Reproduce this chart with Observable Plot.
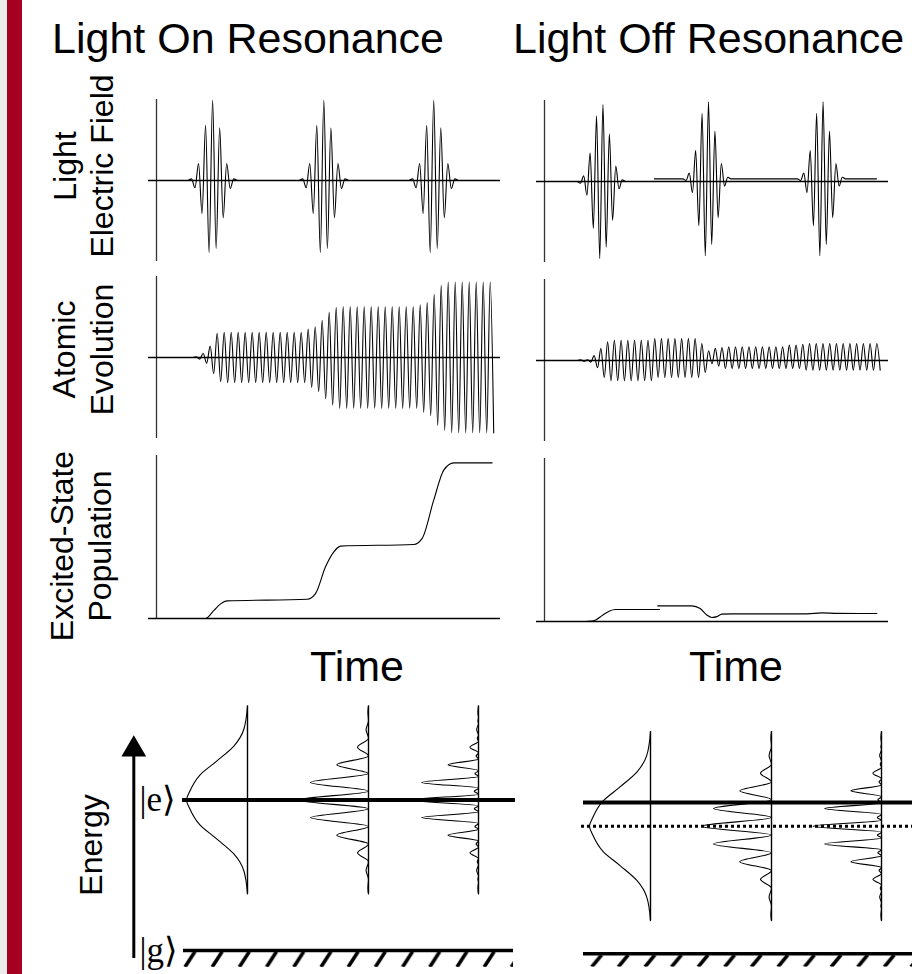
<!DOCTYPE html>
<html>
<head>
<meta charset="utf-8">
<script src="https://cdn.jsdelivr.net/npm/d3@7"></script>
<script src="https://cdn.jsdelivr.net/npm/@observablehq/plot@0.6"></script>
<style>
  html, body { margin: 0; padding: 0; background: #fff; }
  #fig { position: relative; width: 912px; height: 974px; overflow: hidden; }
  #fig > svg { position: absolute; }
</style>
</head>
<body>
<div id="fig"></div>
<script>
// ================= TEXT =================
const titles = ["Light On Resonance", "Light Off Resonance"];
const rowLabels = [["Light", "Electric Field"], ["Atomic", "Evolution"], ["Excited-State", "Population"]];
const timeLabel = "Time";
const energyLabel = "Energy";
const stateLabels = ["|e\u27E9", "|g\u27E9"];

// ================= LIGHT ELECTRIC FIELD (time axis 0..100, field in units of peak) =================
const pulseCentersOn = [16.8, 50.1, 83.0];          // time of the largest crest of each pulse
const pulseHalfCycleOn = 1.054;                      // time between successive extremes
const pulsePeakIndexOn = 6;
const pulseShapeOn = [0.02, -0.09, 0.21, -0.41, 0.68, -0.89, 0.99, -0.84, 0.65, -0.46, 0.21, -0.10, 0.02];

const pulseCentersOff = [17.5, 49.1, 83.4];
const pulseHalfCycleOff = 0.96;
const pulsePeakIndexOff = 7;
const pulseShapeOff = [-0.02, 0.07, -0.17, 0.35, -0.58, 0.81, -0.95, 0.95, -0.81, 0.59, -0.48, 0.19, -0.09, 0.02];
const pulseOffsetOff = [0, 0.033, 0.033];            // slight raise of pulses 2 and 3
const raisedLineOff = [32.9, 99.4];                  // span of the raised trace

// ================= ATOMIC EVOLUTION (crest / trough of each cycle) =================
const atomOnStart = 11.88, atomOnPeriod = 2.096;
const atomOnCrest = [0.01,0.05,0.14,0.30,
  0.31,0.31,0.31,0.31,0.31,0.31,0.31,0.31,0.31,0.31,0.31,0.31,
  0.35,0.38,0.46,0.56,0.62,
  0.63,0.63,0.63,0.63,0.63,0.63,0.63,0.63,0.63,0.63,0.63,
  0.65,0.68,0.78,0.89,
  0.93,0.93,0.93,0.93,0.93,0.93,0.93];
const atomOnTrough = [0.02,0.07,0.20,0.30,
  0.31,0.31,0.31,0.31,0.31,0.31,0.31,0.31,0.31,0.31,0.31,0.31,
  0.37,0.42,0.51,0.59,0.63,
  0.63,0.63,0.63,0.63,0.63,0.63,0.63,0.63,0.63,0.63,0.63,
  0.68,0.72,0.84,0.90,
  0.93,0.93,0.93,0.93,0.93,0.93,0.93];

const atomOffStart = 10.84, atomOffPeriod = 2.015;
const atomOffCrest = [0.01,0.01,0.06,0.15,0.23,
  0.25,0.25,0.25,0.25,0.25,0.25,
  0.27,0.27,0.27,0.27,0.27,0.27,0.27,
  0.21,0.12,0.15,0.16,
  0.17,0.17,0.17,0.17,0.17,0.17,0.17,0.17,0.17,
  0.19,0.19,0.20,
  0.21,0.21,0.21,0.21,0.21,0.21,0.21,0.21,0.21,0.21,0.21];
const atomOffTrough = [0.01,0.02,0.09,0.21,
  0.25,0.25,0.25,0.25,0.25,0.25,0.25,
  0.21,0.21,0.21,0.21,0.21,0.21,0.21,
  0.15,0.04,0.07,
  0.10,0.10,0.10,0.10,0.10,0.10,0.10,0.10,0.10,0.10,0.10,0.10,
  0.12,0.12,0.12,0.12,0.12,0.12,0.12,0.12,0.12,0.12,0.12,0.12];

// ================= EXCITED-STATE POPULATION =================
const popOnTime  = [0, 14.7, 17.2, 19.2, 21.1, 45.1, 47.6, 50.6, 53.1, 55.1, 77.0, 79.5, 83.0, 86.0, 89.0, 100.5];
const popOnValue = [0, 0, 0.05, 0.09, 0.108, 0.118, 0.153, 0.317, 0.409, 0.444, 0.454, 0.49, 0.726, 0.91, 0.955, 0.955];
const popOffTimeA  = [11.2, 14.7, 17.5, 19.5, 21.2, 34.4];
const popOffValueA = [0, 0.005, 0.04, 0.065, 0.074, 0.074];
const popOffTimeB  = [33.9, 44.1, 46.6, 48.6, 50.1, 51.6, 53.1, 56.1, 78.6, 83.1, 87.6, 99.5];
const popOffValueB = [0.096, 0.096, 0.08, 0.04, 0.025, 0.03, 0.045, 0.047, 0.047, 0.053, 0.05, 0.049];

// ================= SPECTRA (energy: |g> = 0, |e> = 1; intensity in units of single-pulse peak) =================
const laserEnergyOn = 1.0, laserEnergyOff = 0.843;
const spectrumHalfSpan = 0.625;
const gaussOffset    = [0, 0.055, 0.166, 0.26, 0.36, 0.47, 0.625];
const gaussIntensity = [1, 0.95, 0.78, 0.50, 0.22, 0.06, 0];
const fringeSpacing = 0.117;
const twoPulsePeaks   = [1.15, 0.95, 0.52, 0.18, 0.04, 0.01];
const threePulseMain  = [1.12, 0.93, 0.50, 0.14, 0.03, 0.01];
const threePulseSub   = [0.07, 0.06, 0.04, 0.02, 0.01];

// ================= BUILD =================
const fig = document.getElementById("fig");
const FONT = "'Liberation Sans', Arial, Helvetica, sans-serif";
const SERIF = "'Liberation Serif', 'DejaVu Serif', 'Times New Roman', serif";
function place(el, left, top) {
  el.style.position = "absolute";
  el.style.left = left + "px";
  el.style.top = top + "px";
  el.style.overflow = "visible";
  fig.appendChild(el);
}

// background: side bar, hatch patterns, texts
const bg = d3.select(fig).append("svg").attr("width", 912).attr("height", 974)
  .style("left", "0px").style("top", "0px");
bg.append("rect").attr("x", 0).attr("y", 0).attr("width", 7).attr("height", 974).attr("fill", "#ebebeb");
bg.append("rect").attr("x", 7).attr("y", 0).attr("width", 15).attr("height", 974).attr("fill", "#a50021");
const defs = bg.append("defs");
function hatch(id, tx, ty, w, h) {
  const p = defs.append("pattern").attr("id", id).attr("patternUnits", "userSpaceOnUse")
    .attr("width", w).attr("height", h).attr("patternTransform", `translate(${tx},${ty})`);
  p.append("line").attr("x1", 3).attr("y1", h).attr("x2", 13).attr("y2", 0)
    .attr("stroke", "#000").attr("stroke-width", 3.6);
}
hatch("hatchL", 102, 251.5, 27.2, 15.5);
hatch("hatchR", 28.7, 254.8, 26.6, 12.2);

const T = bg.append("g").attr("font-family", FONT).attr("fill", "#000");
T.append("text").attr("x", 52).attr("y", 53).attr("font-size", 43).text(titles[0]);
T.append("text").attr("x", 513).attr("y", 53).attr("font-size", 43).text(titles[1]);
function rotLabel(lines, cy, baselines, size) {
  const g = T.append("g").attr("transform", `translate(0,${cy}) rotate(-90)`);
  lines.forEach((s, i) => g.append("text").attr("x", 0).attr("y", baselines[i])
    .attr("text-anchor", "middle").attr("font-size", size).text(s));
}
rotLabel(rowLabels[0], 166, [76, 113], 32);
rotLabel(rowLabels[1], 349.5, [75, 113], 32);
rotLabel(rowLabels[2], 546, [73, 111], 32);
rotLabel([energyLabel], 845, [102], 32);
T.append("text").attr("x", 357).attr("y", 681).attr("text-anchor", "middle").attr("font-size", 43).text(timeLabel);
T.append("text").attr("x", 736).attr("y", 681).attr("text-anchor", "middle").attr("font-size", 43).text(timeLabel);

// ---------- time panels ----------
function timePanel(left, top, wave, marks) {
  const el = Plot.plot({
    width: 356, height: wave ? 172 : 173,
    marginLeft: 10, marginRight: 12, marginTop: 5, marginBottom: 5,
    x: {domain: [0, 100], axis: null},
    y: {domain: wave ? [-1, 1] : [0, 1], axis: null},
    style: {background: "transparent", overflow: "visible"},
    marks: [
      ...marks,
      Plot.ruleX([{x: 0, y1: wave ? -1 : 0, y2: 1}], {x: "x", y1: "y1", y2: "y2", stroke: "#333", strokeWidth: 1.3}),
      Plot.ruleY([{y: 0, x1: -2.4, x2: 103}], {y: "y", x1: "x1", x2: "x2", stroke: "#000", strokeWidth: 1.4})
    ]
  });
  place(el, left, top);
}
function pulsePoints(center, shape, peakIdx, half, off, s) {
  const pts = [{t: center + (-1 - peakIdx) * half, v: off, s}];
  shape.forEach((a, i) => pts.push({t: center + (i - peakIdx) * half, v: a + off, s}));
  pts.push({t: center + (shape.length - peakIdx) * half, v: off, s});
  return pts;
}
function atomPoints(start, period, crest, trough) {
  const pts = [{t: start - period / 2, v: 0}];
  crest.forEach((c, k) => {
    pts.push({t: start + k * period, v: c});
    pts.push({t: start + k * period + period / 2, v: -trough[k]});
  });
  return pts;
}
const traceOpts = {x: "t", y: "v", z: "s", curve: "monotone-x", stroke: "#000", strokeWidth: 1.1};

// field, on resonance
const fieldOn = pulseCentersOn.flatMap((c, i) => pulsePoints(c, pulseShapeOn, pulsePeakIndexOn, pulseHalfCycleOn, 0, i));
timePanel(146, 94, true, [Plot.line(fieldOn, traceOpts)]);
// field, off resonance
const fieldOffA = pulsePoints(pulseCentersOff[0], pulseShapeOff, pulsePeakIndexOff, pulseHalfCycleOff, pulseOffsetOff[0], "a");
const fieldOffB = [
  {t: raisedLineOff[0], v: pulseOffsetOff[1], s: "b"},
  ...pulsePoints(pulseCentersOff[1], pulseShapeOff, pulsePeakIndexOff, pulseHalfCycleOff, pulseOffsetOff[1], "b"),
  ...pulsePoints(pulseCentersOff[2], pulseShapeOff, pulsePeakIndexOff, pulseHalfCycleOff, pulseOffsetOff[2], "b"),
  {t: raisedLineOff[1], v: pulseOffsetOff[2], s: "b"}
];
timePanel(534, 95, true, [Plot.line([...fieldOffA, ...fieldOffB], traceOpts)]);

// atomic evolution
timePanel(146, 271, true, [Plot.line(atomPoints(atomOnStart, atomOnPeriod, atomOnCrest, atomOnTrough),
  {x: "t", y: "v", curve: "monotone-x", stroke: "#000", strokeWidth: 1.1})]);
timePanel(534, 274, true, [Plot.line(atomPoints(atomOffStart, atomOffPeriod, atomOffCrest, atomOffTrough),
  {x: "t", y: "v", curve: "monotone-x", stroke: "#000", strokeWidth: 1.1})]);

// population
const popOn = popOnTime.map((t, i) => ({t, v: popOnValue[i], s: "a"}));
timePanel(146, 450, false, [Plot.line(popOn, traceOpts)]);
const popOff = [
  ...popOffTimeA.map((t, i) => ({t, v: popOffValueA[i], s: "a"})),
  ...popOffTimeB.map((t, i) => ({t, v: popOffValueB[i], s: "b"}))
];
timePanel(534, 453, false, [Plot.line(popOff, traceOpts)]);

// ---------- spectra ----------
function gaussPoints(center) {
  const pts = [];
  for (let i = gaussOffset.length - 1; i > 0; i--) pts.push({E: center - gaussOffset[i], I: gaussIntensity[i]});
  for (let i = 0; i < gaussOffset.length; i++) pts.push({E: center + gaussOffset[i], I: gaussIntensity[i]});
  return pts;
}
function twoPoints(center) {
  const s = fringeSpacing, n = twoPulsePeaks.length - 1;
  const pts = [{E: center - spectrumHalfSpan, I: 0}];
  for (let k = -n; k <= n; k++) {
    pts.push({E: center + k * s, I: twoPulsePeaks[Math.abs(k)]});
    if (k < n) pts.push({E: center + (k + 0.5) * s, I: 0});
  }
  pts.push({E: center + spectrumHalfSpan, I: 0});
  return pts;
}
function threePoints(center) {
  const s = fringeSpacing, n = threePulseMain.length - 1;
  const pts = [{E: center - spectrumHalfSpan, I: 0}];
  for (let k = -n; k <= n; k++) {
    pts.push({E: center + k * s, I: threePulseMain[Math.abs(k)]});
    if (k < n) {
      const j = k >= 0 ? k : -(k + 1);
      pts.push({E: center + (k + 1 / 3) * s, I: 0});
      pts.push({E: center + (k + 0.5) * s, I: threePulseSub[j]});
      pts.push({E: center + (k + 2 / 3) * s, I: 0});
    }
  }
  pts.push({E: center + spectrumHalfSpan, I: 0});
  return pts;
}
function spectrumPlot(lineX, yRange, center, pts) {
  const el = Plot.plot({
    width: 80, height: 274, margin: 0,
    x: {domain: [0, 1], range: [79, 18], axis: null},
    y: {domain: [0, 1], range: yRange, axis: null},
    style: {background: "transparent", overflow: "visible"},
    marks: [
      Plot.line(pts, {x: "I", y: "E", curve: "monotone-y", stroke: "#000", strokeWidth: 1.1}),
      Plot.ruleX([{x: 0, y1: center - spectrumHalfSpan, y2: center + spectrumHalfSpan}],
        {x: "x", y1: "y1", y2: "y2", stroke: "#000", strokeWidth: 1.4})
    ]
  });
  place(el, lineX - 79, 700);
}
const yRangeL = [250, 99.5], yRangeR = [253.3, 102];
spectrumPlot(246.7, yRangeL, laserEnergyOn, gaussPoints(laserEnergyOn));
spectrumPlot(367.7, yRangeL, laserEnergyOn, twoPoints(laserEnergyOn));
spectrumPlot(478.3, yRangeL, laserEnergyOn, threePoints(laserEnergyOn));
spectrumPlot(650, yRangeR, laserEnergyOff, gaussPoints(laserEnergyOff));
spectrumPlot(770.7, yRangeR, laserEnergyOff, twoPoints(laserEnergyOff));
spectrumPlot(881, yRangeR, laserEnergyOff, threePoints(laserEnergyOff));

// ---------- energy level overlays ----------
const overlayL = Plot.plot({
  width: 440, height: 274, margin: 0,
  x: {domain: [0, 440], range: [0, 440], axis: null},
  y: {domain: [0, 1], range: yRangeL, axis: null},
  style: {background: "transparent", overflow: "visible"},
  marks: [
    Plot.rect([{x1: 103, x2: 433, y1: -0.012, y2: -0.112}], {x1: "x1", x2: "x2", y1: "y1", y2: "y2", fill: "url(#hatchL)"}),
    Plot.ruleY([{y: 0, x1: 103, x2: 433}], {y: "y", x1: "x1", x2: "x2", stroke: "#000", strokeWidth: 3.5}),
    Plot.ruleY([{y: 1, x1: 102, x2: 435}], {y: "y", x1: "x1", x2: "x2", stroke: "#000", strokeWidth: 4}),
    Plot.ruleX([{x: 53.3, y1: -0.053, y2: 1.32}], {x: "x", y1: "y1", y2: "y2", stroke: "#000", strokeWidth: 3}),
    Plot.dot([{x: 53.3, y: 1.336}], {x: "x", y: "y", symbol: "triangle", r: 9.2, fill: "#000", stroke: "none"}),
    Plot.text([{x: 59, y: 1, s: stateLabels[0]}, {x: 59, y: 0, s: stateLabels[1]}],
      {x: "x", y: "y", text: "s", textAnchor: "start", fontSize: 35, fontFamily: SERIF, fill: "#000"})
  ]
});
place(overlayL, 80, 700);

const overlayR = Plot.plot({
  width: 352, height: 274, margin: 0,
  x: {domain: [0, 352], range: [0, 352], axis: null},
  y: {domain: [0, 1], range: yRangeR, axis: null},
  style: {background: "transparent", overflow: "visible"},
  marks: [
    Plot.rect([{x1: 23, x2: 352, y1: -0.012, y2: -0.088}], {x1: "x1", x2: "x2", y1: "y1", y2: "y2", fill: "url(#hatchR)"}),
    Plot.ruleY([{y: 0, x1: 23, x2: 352}], {y: "y", x1: "x1", x2: "x2", stroke: "#000", strokeWidth: 3.5}),
    Plot.ruleY([{y: laserEnergyOff, x1: 21, x2: 352}], {y: "y", x1: "x1", x2: "x2", stroke: "#000", strokeWidth: 3, strokeDasharray: "3,3"}),
    Plot.ruleY([{y: 1, x1: 23, x2: 352}], {y: "y", x1: "x1", x2: "x2", stroke: "#000", strokeWidth: 4})
  ]
});
place(overlayR, 560, 700);
</script>
</body>
</html>
